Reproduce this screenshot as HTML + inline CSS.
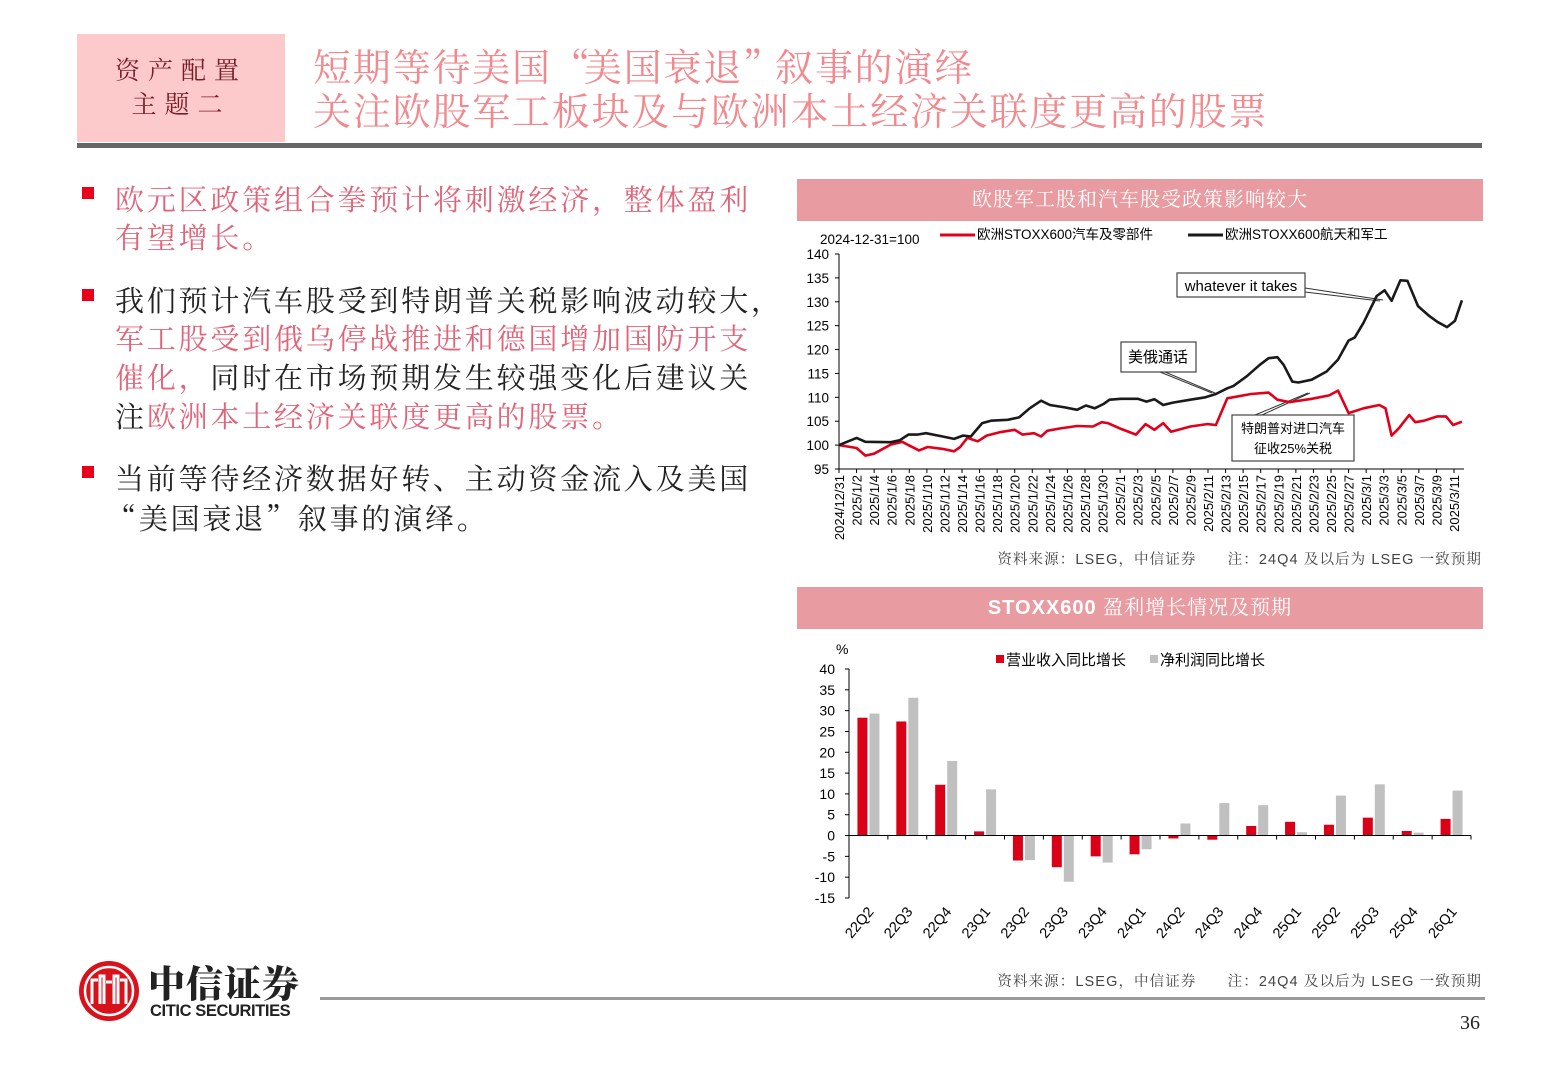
<!DOCTYPE html>
<html><head><meta charset="utf-8"><style>
*{margin:0;padding:0;box-sizing:border-box}
body{width:1560px;height:1080px;background:#fff;position:relative;overflow:hidden;font-family:"Liberation Sans","Noto Sans CJK SC",sans-serif}
.abs{position:absolute;white-space:nowrap}
.ln{position:absolute;left:115px;font-family:"Liberation Serif","Noto Serif CJK SC",serif;font-size:29px;letter-spacing:2.8px;color:#222;line-height:38px}
.pk{color:#e0657a}
.q{font-family:"Noto Serif CJK SC",serif}
.ttl .q{letter-spacing:-6px}
.bul{position:absolute;left:82px;width:12px;height:12px;background:#e8001c}
.ttl{position:absolute;left:313px;font-family:"Liberation Serif","Noto Serif CJK SC",serif;font-size:38px;letter-spacing:1.8px;color:#f2898e;line-height:46px}
.cbar{position:absolute;left:797px;width:686px;height:42px;background:#e89ca2;color:#fff;text-align:center;line-height:42px;font-size:20px;font-family:"Liberation Serif","Noto Serif CJK SC",serif;letter-spacing:1px}
.src{position:absolute;right:78px;font-size:14.5px;color:#444;font-family:"Liberation Sans","Noto Serif CJK SC",sans-serif;letter-spacing:1.1px}
</style></head><body>
<div class="abs" style="left:77px;top:34px;width:208px;height:108px;background:#fdcacb"></div>
<div class="abs" style="left:77px;top:55px;width:208px;text-align:center;font-family:'Liberation Serif','Noto Serif CJK SC',serif;font-size:25px;color:#7a1d28;letter-spacing:8px;line-height:34px">资产配置<br>主题二</div>
<div class="ttl" style="top:42px">短期等待美国<span class="q">“</span>美国衰退<span class="q">”</span>叙事的演绎</div>
<div class="ttl" style="top:90px">关注欧股军工板块及与欧洲本土经济关联度更高的股票</div>
<div class="abs" style="left:77px;top:143px;width:1405px;height:5px;background:#666"></div>

<div class="bul" style="top:187px"></div>
<div class="ln pk" style="top:182px">欧元区政策组合拳预计将刺激经济，整体盈利</div>
<div class="ln pk" style="top:220px">有望增长。</div>
<div class="bul" style="top:289px"></div>
<div class="ln" style="top:283px">我们预计汽车股受到特朗普关税影响波动较大，</div>
<div class="ln pk" style="top:321px">军工股受到俄乌停战推进和德国增加国防开支</div>
<div class="ln" style="top:360px"><span class="pk">催化，</span>同时在市场预期发生较强变化后建议关</div>
<div class="ln" style="top:399px">注<span class="pk">欧洲本土经济关联度更高的股票。</span></div>
<div class="bul" style="top:466px"></div>
<div class="ln" style="top:461px">当前等待经济数据好转、主动资金流入及美国</div>
<div class="ln" style="top:499px"><span class="q" style="margin-left:-8px">“</span>美国衰退<span class="q">”</span>叙事的演绎。</div>

<div class="cbar" style="top:179px">欧股军工股和汽车股受政策影响较大</div>
<svg class="abs" id="lc" style="left:0;top:0" width="1560" height="560"></svg>
<div class="src" style="top:548px">资料来源：LSEG，中信证券　　注：24Q4 及以后为 LSEG 一致预期</div>

<div class="cbar" style="top:587px;font-family:'Liberation Sans','Noto Serif CJK SC',sans-serif;font-weight:bold">STOXX600 <span style="font-weight:normal;font-family:'Liberation Serif','Noto Serif CJK SC',serif">盈利增长情况及预期</span></div>
<svg class="abs" id="bc" style="left:0;top:0" width="1560" height="970"></svg>
<div class="src" style="top:970px">资料来源：LSEG，中信证券　　注：24Q4 及以后为 LSEG 一致预期</div>

<svg class="abs" style="left:78px;top:958px" width="62" height="66" viewBox="0 0 62 66">
<circle cx="31" cy="33" r="30" fill="#d7121b"/><circle cx="31" cy="33" r="24" fill="none" stroke="#fff" stroke-width="2.5"/>
<path d="M14 46V22h6M48 46V22h-6M22 46V18h4v28M36 46V18h4v28M28 24h6" stroke="#fff" stroke-width="3" fill="none"/></svg>
<div class="abs" style="left:148px;top:960px;font-family:'Noto Serif CJK SC',serif;font-weight:900;font-size:37px;line-height:42px;color:#222;letter-spacing:1px">中信证券</div>
<div class="abs" style="left:150px;top:1002px;font-size:16.5px;font-weight:bold;color:#222;letter-spacing:-0.4px">CITIC SECURITIES</div>
<div class="abs" style="left:320px;top:997px;width:1165px;height:3px;background:#9a9a9a"></div>
<div class="abs" style="left:1460px;top:1012px;font-family:'Liberation Serif',serif;font-size:20px;color:#222">36</div>

<script>
// ===== Line chart data =====
const lineDays=[0,2,3,5.9,6.9,7.9,8.9,9.9,11.8,13.1,14.1,15,16.3,17.3,19.2,20.5,21.7,23,24,25.7,27.1,28.1,29.1,30.1,30.8,32.1,34,35,35.9,36.9,38,40,41.7,42.9,44.2,44.9,46.4,47.9,48.9,49.9,50.6,51.6,52.3,53.8,55.5,56.8,58,58.7,59.7,61.2,62.1,62.9,63.9,64.7,65.9,67.2,68.1,69.2,70.1,70.9];
const defenseValues=[100,101.5,100.7,100.6,101,102.2,102.2,102.5,101.8,101.3,102,101.8,104.6,105.1,105.3,105.8,107.7,109.3,108.4,107.9,107.4,108.3,107.7,108.6,109.5,109.7,109.7,109.1,109.6,108.4,108.9,109.5,110,110.7,111.9,112.4,114.4,116.8,118.2,118.4,116.8,113.3,113.1,113.7,115.4,117.9,121.9,122.5,125.6,131.2,132.4,130.2,134.5,134.4,129.1,127,125.8,124.7,126,130.3];
const autoDays=[0,2,3,4,5.9,7.2,7.9,9.1,10.1,11.8,13.1,13.8,14.6,15.8,16.8,18.3,20,20.9,22.2,23,23.7,25.2,27.1,28.9,29.9,30.6,32.1,33.8,34.9,35.9,36.9,37.8,40,41.9,42.9,44.2,46.9,48.9,49.9,51.3,53.8,55.8,56.8,58,59.7,61.5,62.2,62.9,63.7,64.9,65.6,66.6,68.1,69.1,69.9,70.9];
const autoValues=[100,99.4,97.8,98.2,100.1,100.7,100,98.9,99.6,99.2,98.7,99.6,101.5,100.8,102,102.7,103.2,102.2,102.5,101.8,103,103.5,104,103.9,104.8,104.6,103.4,102.2,104.4,103.2,104.6,102.8,103.9,104.4,104.2,109.8,110.7,111,109.5,109,109.7,110.4,111.4,106.7,107.7,108.4,107.7,102,103.5,106.3,104.8,105.1,106,106,104.2,104.9];
const lineTicks=[95,100,105,110,115,120,125,130,135,140];
const dateLabels=["2024/12/31","2025/1/2","2025/1/4","2025/1/6","2025/1/8","2025/1/10","2025/1/12","2025/1/14","2025/1/16","2025/1/18","2025/1/20","2025/1/22","2025/1/24","2025/1/26","2025/1/28","2025/1/30","2025/2/1","2025/2/3","2025/2/5","2025/2/7","2025/2/9","2025/2/11","2025/2/13","2025/2/15","2025/2/17","2025/2/19","2025/2/21","2025/2/23","2025/2/25","2025/2/27","2025/3/1","2025/3/3","2025/3/5","2025/3/7","2025/3/9","2025/3/11"];

// ===== Bar chart data =====
const quarters=["22Q2","22Q3","22Q4","23Q1","23Q2","23Q3","23Q4","24Q1","24Q2","24Q3","24Q4","25Q1","25Q2","25Q3","25Q4","26Q1"];
const revenueGrowth=[28.3,27.4,12.2,1.0,-6.0,-7.6,-5.0,-4.5,-0.7,-1.0,2.3,3.3,2.6,4.3,1.1,4.0];
const profitGrowth=[29.3,33.1,17.9,11.1,-5.9,-11.1,-6.5,-3.3,2.9,7.8,7.3,0.8,9.6,12.3,0.7,10.8];
const barTicks=[-15,-10,-5,0,5,10,15,20,25,30,35,40];

const NS="http://www.w3.org/2000/svg";
function mk(svg,tag,attrs,text){const e=document.createElementNS(NS,tag);for(const k in attrs)e.setAttribute(k,attrs[k]);if(text!==undefined)e.textContent=text;svg.appendChild(e);return e;}

// ---- line chart ----
(function(){
const svg=document.getElementById('lc');
const X0=839,DX=(1454-839)/70,Y0=469,Y1=254;
const xs=d=>X0+d*DX;
const ys=v=>Y0-(v-95)/(140-95)*(Y0-Y1);
let e=mk(svg,'line',{x1:X0,y1:Y1,x2:X0,y2:Y0,stroke:'#000','stroke-width':1});

e=mk(svg,'line',{x1:X0,y1:Y0,x2:1464,y2:Y0,stroke:'#000','stroke-width':1});

lineTicks.forEach(t=>{
 const y=ys(t);
 const tk=mk(svg,'line',{x1:X0-4,y1:y,x2:X0,y2:y,stroke:'#000'});
 
 const lb=mk(svg,'text',{x:X0-10,y:y+5,'text-anchor':'end','font-size':13.5,fill:'#000'},t);
 
});
dateLabels.forEach((d,i)=>{
 const x=xs(i*2);
 const tk=mk(svg,'line',{x1:x,y1:Y0,x2:x,y2:Y0+4,stroke:'#000'});
 
 const lb=mk(svg,'text',{x:0,y:0,'text-anchor':'end','font-size':13,fill:'#000',transform:`translate(${x+5},${Y0+6}) rotate(-90)`},d);
 
});
const ann=[["whatever it takes",1177,273,128,24,[[1305,288,1383,300],[1305,292,1380,301]]],["美俄通话",1121,342,75,30,[[1165,372,1215,393],[1160,372,1212,393]]],["",1232,415,122,46,[[1255,415,1308,393],[1262,415,1310,393]]]];
ann.forEach((a,i)=>{
 a[5].forEach(l=>{const p=mk(svg,'line',{x1:l[0],y1:l[1],x2:l[2],y2:l[3],stroke:'#333','stroke-width':1});});
 const r=mk(svg,'rect',{x:a[1],y:a[2],width:a[3],height:a[4],fill:'#fff',stroke:'#444','stroke-width':1.2});
 
});
let t=mk(svg,'text',{x:1241,y:291,'text-anchor':'middle','font-size':15,fill:'#000'},'whatever it takes');

t=mk(svg,'text',{x:1158,y:362,'text-anchor':'middle','font-size':15,fill:'#000'},'美俄通话');

t=mk(svg,'text',{x:1293,y:433,'text-anchor':'middle','font-size':13,fill:'#000'},'特朗普对进口汽车');

t=mk(svg,'text',{x:1293,y:453,'text-anchor':'middle','font-size':13,fill:'#000'},'征收25%关税');

const path=(ds,vs)=>ds.map((d,i)=>(i?'L':'M')+xs(d).toFixed(1)+','+ys(vs[i]).toFixed(1)).join('');
let p=mk(svg,'path',{d:path(autoDays,autoValues),fill:'none',stroke:'#e0001b','stroke-width':2.6,'stroke-linejoin':'round'});

p=mk(svg,'path',{d:path(lineDays,defenseValues),fill:'none',stroke:'#1a1a1a','stroke-width':2.6,'stroke-linejoin':'round'});

t=mk(svg,'text',{x:820,y:244,'font-size':13.5,fill:'#000'},'2024-12-31=100');

let l=mk(svg,'line',{x1:940,y1:235,x2:975,y2:235,stroke:'#e0001b','stroke-width':3});

t=mk(svg,'text',{x:977,y:239,'font-size':13.5,fill:'#000'},'欧洲STOXX600汽车及零部件');

l=mk(svg,'line',{x1:1188,y1:235,x2:1223,y2:235,stroke:'#1a1a1a','stroke-width':3});

t=mk(svg,'text',{x:1225,y:239,'font-size':13.5,fill:'#000'},'欧洲STOXX600航天和军工');

})();

// ---- bar chart ----
(function(){
const svg=document.getElementById('bc');
const X0=849,X1=1471,YT=669,YB=898;
const ys=v=>YT+(40-v)/55*(YB-YT);
const gw=(X1-X0)/quarters.length, bw=10;
let e=mk(svg,'line',{x1:X0,y1:YT,x2:X0,y2:YB,stroke:'#000'});

barTicks.forEach(t=>{
 const y=ys(t);
 const tk=mk(svg,'line',{x1:X0-4,y1:y,x2:X0,y2:y,stroke:'#000'});
 
 const lb=mk(svg,'text',{x:X0-14,y:y+5,'text-anchor':'end','font-size':14,fill:'#000'},t);
 
});
let u=mk(svg,'text',{x:836,y:654,'font-size':14,fill:'#000'},'%');

quarters.forEach((q,i)=>{
 const gx=X0+i*gw, cx=gx+gw/2;
 const r1=revenueGrowth[i], r2=profitGrowth[i];
 let b=mk(svg,'rect',{x:cx-bw-1,y:Math.min(ys(r1),ys(0)),width:bw,height:Math.abs(ys(r1)-ys(0)),fill:'#d90017'});
 
 b=mk(svg,'rect',{x:cx+1,y:Math.min(ys(r2),ys(0)),width:bw,height:Math.abs(ys(r2)-ys(0)),fill:'#c0c0c0'});
 
 const tk=mk(svg,'line',{x1:gx+gw,y1:ys(0),x2:gx+gw,y2:ys(0)+4,stroke:'#000'});
 
 const lb=mk(svg,'text',{x:0,y:0,'text-anchor':'end','font-size':14.5,fill:'#000',transform:`translate(${cx+6},${912}) rotate(-50)`},q);
 
});
e=mk(svg,'line',{x1:X0,y1:ys(0),x2:X1,y2:ys(0),stroke:'#000'});

let s=mk(svg,'rect',{x:996,y:655,width:8,height:8,fill:'#d90017'});

let t=mk(svg,'text',{x:1006,y:665,'font-size':15,fill:'#000'},'营业收入同比增长');

s=mk(svg,'rect',{x:1150,y:655,width:8,height:8,fill:'#c0c0c0'});

t=mk(svg,'text',{x:1160,y:665,'font-size':15,fill:'#000'},'净利润同比增长');

})();
</script>
</body></html>
